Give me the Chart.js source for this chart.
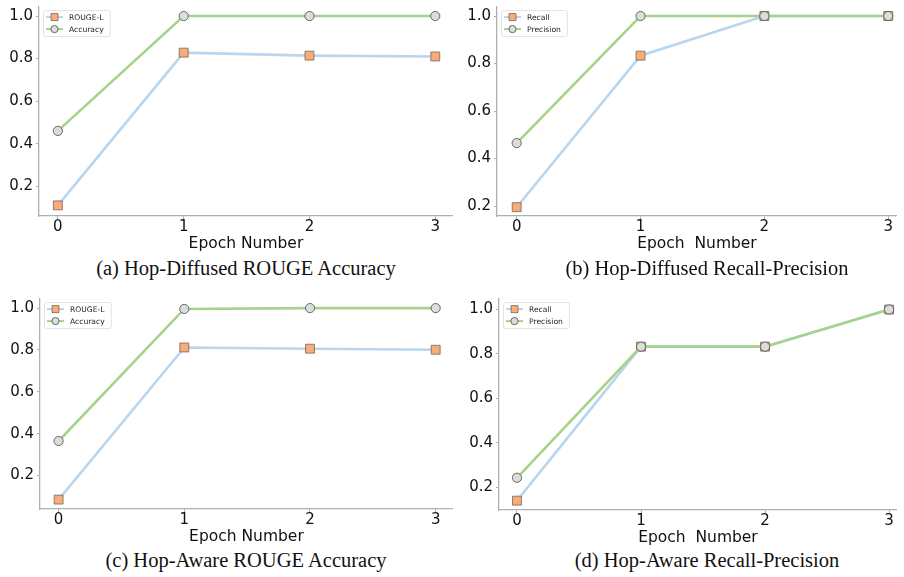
<!DOCTYPE html>
<html>
<head>
<meta charset="utf-8">
<script src="https://cdn.jsdelivr.net/npm/chart.js@4/dist/chart.umd.min.js"></script>
<style>
  body { margin: 0; background: #fff; width: 904px; height: 577px; position: relative; overflow: hidden; }
  .panel { position: absolute; }
  .caption { position: absolute; width: 460px; text-align: center; font-family: "Liberation Serif", "Times New Roman", serif; font-size: 20.5px; color: #111; line-height: 22px; }
</style>
</head>
<body>
<div class="panel" style="left:0px;top:0px;width:460px;height:252px"><canvas id="chartA"></canvas></div>
<div class="panel" style="left:458px;top:0px;width:446px;height:252px"><canvas id="chartB"></canvas></div>
<div class="panel" style="left:1px;top:292px;width:459px;height:253px"><canvas id="chartC"></canvas></div>
<div class="panel" style="left:460px;top:292px;width:444px;height:254px"><canvas id="chartD"></canvas></div>
<div class="caption" style="left:16px;top:257px">(a) Hop-Diffused ROUGE Accuracy</div>
<div class="caption" style="left:477px;top:257px">(b) Hop-Diffused Recall-Precision</div>
<div class="caption" style="left:16px;top:549px">(c) Hop-Aware ROUGE Accuracy</div>
<div class="caption" style="left:477px;top:549px">(d) Hop-Aware Recall-Precision</div>
<script>
const epochs = [0, 1, 2, 3];
const yTicks = [0.2, 0.4, 0.6, 0.8, 1.0];

// Hop-Diffused
const rougeDiffused = [0.11, 0.828, 0.814, 0.81];
const accDiffused = [0.46, 1.0, 1.0, 1.0];
const recallDiffused = [0.195, 0.833, 1.0, 1.0];
const precisionDiffused = [0.465, 1.0, 1.0, 1.0];

// Hop-Aware
const rougeAware = [0.085, 0.812, 0.806, 0.801];
const accAware = [0.365, 0.996, 1.0, 1.0];
const recallAware = [0.14, 0.833, 0.833, 1.0];
const precisionAware = [0.243, 0.833, 0.833, 1.0];

const BLUE = '#b9d6ee';
const GREEN = '#a6d38a';
const ORANGE = '#f5ad7c';
const GREY_FILL = '#dcdcdc';
const AXIS = '#b0b0b0';

function drawMarker(ctx, style, x, y, r) {
    ctx.beginPath();
    if (style === 'rect') {
        ctx.rect(x - r, y - r, 2 * r, 2 * r);
        ctx.fillStyle = ORANGE;
        ctx.strokeStyle = '#7d6252';
    } else {
        ctx.arc(x, y, r, 0, Math.PI * 2);
        ctx.fillStyle = GREY_FILL;
        ctx.strokeStyle = '#4a4a4a';
    }
    ctx.lineWidth = 0.8;
    ctx.fill();
    ctx.stroke();
}

// legend box drawn inside the plot, top-left
const insideLegend = {
    id: 'insideLegend',
    afterDraw(chart) {
        const ctx = chart.ctx;
        const area = chart.chartArea;
        const bx = area.left + 4, by = area.top + 3;
        ctx.save();
        ctx.font = '7.6px "DejaVu Sans"';
        const names = chart.data.datasets.map(d => d.label);
        const tw = Math.max(...names.map(n => ctx.measureText(n).width));
        const bw = 28 + tw + 4, bh = 26;
        ctx.fillStyle = 'rgba(255,255,255,0.9)';
        ctx.strokeStyle = '#e2e2e2';
        ctx.lineWidth = 1;
        ctx.beginPath();
        ctx.roundRect(bx + 0.5, by + 0.5, bw, bh, 2);
        ctx.fill();
        ctx.stroke();
        chart.data.datasets.forEach((ds, i) => {
            const y = by + 7 + i * 12;
            ctx.strokeStyle = ds.borderColor;
            ctx.lineWidth = 2;
            ctx.beginPath();
            ctx.moveTo(bx + 3, y);
            ctx.lineTo(bx + 20, y);
            ctx.stroke();
            drawMarker(ctx, ds.pointStyle, bx + 11.5, y, ds.pointStyle === 'rect' ? 3.5 : 3.6);
            ctx.fillStyle = '#222';
            ctx.textBaseline = 'middle';
            ctx.fillText(ds.label, bx + 26, y + 0.5);
        });
        ctx.restore();
    }
};

function makeSeries(label, data, color, style, order) {
    const rect = style === 'rect';
    return {
        label,
        data: data.map((v, i) => ({ x: epochs[i], y: v })),
        borderColor: color,
        borderWidth: 2.6,
        pointStyle: style,
        pointRadius: rect ? 6.3 : 4.6,
        pointBackgroundColor: rect ? ORANGE : GREY_FILL,
        pointBorderColor: rect ? '#7d6252' : '#4a4a4a',
        pointBorderWidth: 0.8,
        tension: 0,
        order
    };
}

function createPanel(canvasId, series, xr, yr, padTop, padRight, xTitle) {
    const ctx = document.getElementById(canvasId);
    new Chart(ctx, {
        type: 'line',
        data: { datasets: series },
        options: {
            responsive: true,
            maintainAspectRatio: false,
            animation: false,
            layout: { padding: { top: padTop, right: padRight, left: 0, bottom: 0 } },
            plugins: { legend: { display: false }, tooltip: { enabled: false } },
            scales: {
                x: {
                    type: 'linear',
                    min: xr[0],
                    max: xr[1],
                    afterBuildTicks: s => { s.ticks = epochs.map(v => ({ value: v })); },
                    grid: { drawOnChartArea: false, color: AXIS, tickLength: 3 },
                    border: { color: AXIS, width: 1.3 },
                    ticks: { color: '#111', padding: 1, font: { family: 'DejaVu Sans', size: 15, lineHeight: 1.0 } },
                    title: {
                        display: true,
                        text: xTitle,
                        color: '#111',
                        padding: { top: 2, bottom: 0 },
                        font: { family: 'DejaVu Sans', size: 15.5, lineHeight: 1.1 }
                    },
                    afterFit: s => { s.height = 36; s.paddingLeft = 0; s.paddingRight = 0; }
                },
                y: {
                    min: yr[0],
                    max: yr[1],
                    afterBuildTicks: s => { s.ticks = yTicks.map(v => ({ value: v })); },
                    grid: { drawOnChartArea: false, color: AXIS, tickLength: 3 },
                    border: { color: AXIS, width: 1.3 },
                    ticks: {
                        color: '#111',
                        padding: 3,
                        font: { family: 'DejaVu Sans', size: 15 },
                        callback: v => v.toFixed(1)
                    },
                    afterFit: s => { s.width = 39; s.paddingTop = 0; s.paddingBottom = 0; }
                }
            }
        },
        plugins: [insideLegend]
    });
}

createPanel('chartA', [
    makeSeries('ROUGE-L', rougeDiffused, BLUE, 'rect', 1),
    makeSeries('Accuracy', accDiffused, GREEN, 'circle', 0)
], [-0.15, 3.14], [0.06, 1.042], 5, 5, 'Epoch Number');

createPanel('chartB', [
    makeSeries('Recall', recallDiffused, BLUE, 'rect', 1),
    makeSeries('Precision', precisionDiffused, GREEN, 'circle', 0)
], [-0.159, 3.07], [0.158, 1.0375], 5, 0, 'Epoch  Number');

createPanel('chartC', [
    makeSeries('ROUGE-L', rougeAware, BLUE, 'rect', 1),
    makeSeries('Accuracy', accAware, GREEN, 'circle', 0)
], [-0.148, 3.137], [0.04, 1.043], 5, 4, 'Epoch Number');

createPanel('chartD', [
    makeSeries('Recall', recallAware, BLUE, 'rect', 1),
    makeSeries('Precision', precisionAware, GREEN, 'circle', 0)
], [-0.145, 3.063], [0.098, 1.047], 5, 0, 'Epoch  Number');
</script>
</body>
</html>
